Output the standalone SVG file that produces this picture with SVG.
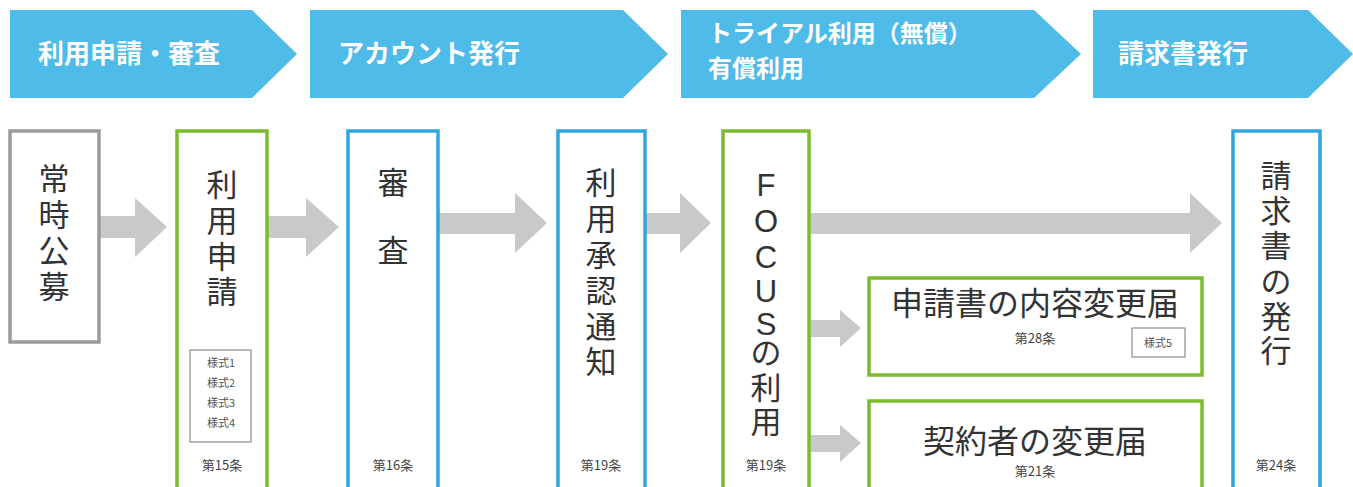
<svg xmlns="http://www.w3.org/2000/svg" width="1353" height="487" viewBox="0 0 1353 487">
<style>
.bn{fill:#4fbbe8}
.bt{fill:#fff;font-family:"Noto Sans CJK JP","Noto Sans",sans-serif;font-weight:bold;font-size:26px}
.bt3{fill:#fff;font-family:"Noto Sans CJK JP","Noto Sans",sans-serif;font-weight:bold;font-size:24px}
.gray{fill:#fff;stroke:#9a9a9a;stroke-width:3.5}
.green{fill:#fff;stroke:#7dbb2e;stroke-width:3.5}
.blue{fill:#fff;stroke:#2fa6dd;stroke-width:3.5}
.vt{fill:#333;font-family:"Noto Sans CJK JP","Noto Sans",sans-serif;font-size:31px;text-anchor:middle}
.vl{fill:#333;font-family:"Liberation Sans","Noto Sans CJK JP",sans-serif;font-size:31px;text-anchor:middle}
.ht{fill:#333;font-family:"Noto Sans CJK JP","Noto Sans",sans-serif;font-size:32px;text-anchor:middle}
.art{fill:#444;font-family:"Noto Sans CJK JP","Noto Sans",sans-serif;font-size:13px;text-anchor:middle}
.sm{fill:#555;font-family:"Noto Sans CJK JP","Noto Sans",sans-serif;font-size:11px;text-anchor:middle}
.frm{fill:#fff;stroke:#777;stroke-width:1}
.arr{fill:#c9c9c9}
</style>
<g id="banners">
<g id="banner1"><polygon class="bn" points="10,10 252,10 297,54 252,98 10,98"/><text class="bt" x="38" y="63">利用申請・審査</text></g>
<g id="banner2"><polygon class="bn" points="310,10 623,10 668,54 623,98 310,98"/><text class="bt" x="338" y="63">アカウント発行</text></g>
<g id="banner3"><polygon class="bn" points="681,10 1034,10 1081,54 1034,98 681,98"/><text class="bt3" x="708" y="42">トライアル利用（無償）</text><text class="bt3" x="708" y="77">有償利用</text></g>
<g id="banner4"><polygon class="bn" points="1093,10 1308,10 1353,54 1308,98 1093,98"/><text class="bt" x="1118" y="63">請求書発行</text></g>
</g>
<g id="connectors">
<polygon class="arr" points="100,216 135,216 135,198 167,227 135,257 135,238 100,238"/>
<polygon class="arr" points="268,216 306,216 306,198 339,227 306,257 306,238 268,238"/>
<polygon class="arr" points="439,213 515,213 515,193 547,223 515,253 515,234 439,234"/>
<polygon class="arr" points="646,213 680,213 680,193 711,223 680,253 680,234 646,234"/>
<polygon class="arr" points="810,213 1190,213 1190,193 1222,223 1190,253 1190,234 810,234"/>
<polygon class="arr" points="810,320 840,320 840,310 861,328 840,347 840,337 810,337"/>
<polygon class="arr" points="810,435 840,435 840,425 861,443 840,462 840,452 810,452"/>
</g>
<g id="n-joji">
<rect class="gray" x="10" y="131" width="89" height="211"/>
<text class="vt"><tspan x="54" y="190">常</tspan><tspan x="54" y="226">時</tspan><tspan x="54" y="262">公</tspan><tspan x="54" y="298">募</tspan></text>
</g>
<g id="n-shinsei">
<rect class="green" x="177" y="131" width="90" height="360"/>
<text class="vt"><tspan x="222" y="196">利</tspan><tspan x="222" y="232">用</tspan><tspan x="222" y="268">申</tspan><tspan x="222" y="303">請</tspan></text>
<rect class="frm" x="190" y="350" width="61" height="92"/>
<text class="sm"><tspan x="221" y="367">様式1</tspan><tspan x="221" y="387">様式2</tspan><tspan x="221" y="407">様式3</tspan><tspan x="221" y="427">様式4</tspan></text>
<text class="art" x="222" y="470">第15条</text>
</g>
<g id="n-shinsa">
<rect class="blue" x="348" y="131" width="90" height="360"/>
<text class="vt"><tspan x="393" y="194">審</tspan><tspan x="393" y="262">査</tspan></text>
<text class="art" x="393" y="470">第16条</text>
</g>
<g id="n-shonin">
<rect class="blue" x="558" y="131" width="87" height="360"/>
<text class="vt"><tspan x="601" y="194">利</tspan><tspan x="601" y="230">用</tspan><tspan x="601" y="266">承</tspan><tspan x="601" y="302">認</tspan><tspan x="601" y="338">通</tspan><tspan x="601" y="373">知</tspan></text>
<text class="art" x="601" y="470">第19条</text>
</g>
<g id="n-focus">
<rect class="green" x="723" y="131" width="86" height="360"/>
<text class="vl"><tspan x="766" y="196">F</tspan><tspan x="766" y="232">O</tspan><tspan x="766" y="268">C</tspan><tspan x="766" y="302">U</tspan><tspan x="766" y="335">S</tspan></text>
<text class="vt"><tspan x="766" y="364">の</tspan><tspan x="766" y="399">利</tspan><tspan x="766" y="433">用</tspan></text>
<text class="art" x="766" y="470">第19条</text>
</g>
<g id="n-naiyo">
<rect class="green" x="869" y="278" width="333" height="97"/>
<text class="ht" x="1035" y="315">申請書の内容変更届</text>
<text class="art" x="1035" y="343">第28条</text>
<rect class="frm" x="1132" y="328" width="53" height="29"/>
<text class="sm" x="1158" y="347">様式5</text>
</g>
<g id="n-keiyaku">
<rect class="green" x="869" y="401" width="333" height="90"/>
<text class="ht" x="1035" y="453">契約者の変更届</text>
<text class="art" x="1035" y="476">第21条</text>
</g>
<g id="n-seikyu">
<rect class="blue" x="1233" y="131" width="87" height="360"/>
<text class="vt"><tspan x="1276" y="187">請</tspan><tspan x="1276" y="222">求</tspan><tspan x="1276" y="257">書</tspan><tspan x="1276" y="293">の</tspan><tspan x="1276" y="328">発</tspan><tspan x="1276" y="362">行</tspan></text>
<text class="art" x="1276" y="470">第24条</text>
</g>
</svg>
